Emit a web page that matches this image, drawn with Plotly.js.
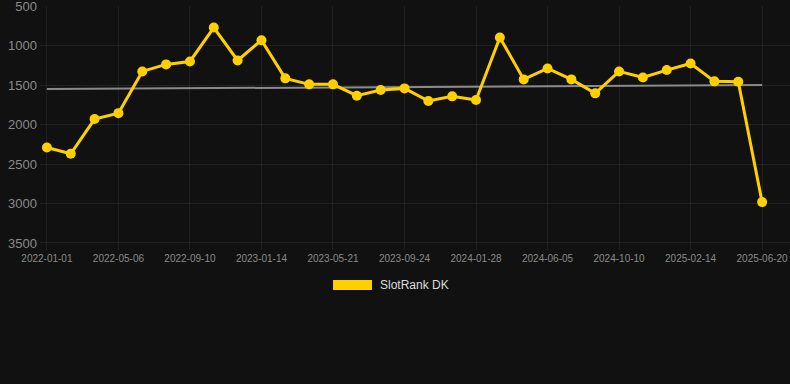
<!DOCTYPE html>
<html><head><meta charset="utf-8">
<script src="https://cdn.plot.ly/plotly-3.0.1.min.js"></script>
<style>html,body{margin:0;padding:0;background:#111111;}#chart{width:790px;height:384px;}</style>
</head><body><div id="chart"></div>
<script>
const dates = ["2022-01-01","2022-02-12","2022-03-25","2022-05-06","2022-06-17","2022-07-29","2022-09-10","2022-10-22","2022-12-03","2023-01-14","2023-02-25","2023-04-08","2023-05-21","2023-07-02","2023-08-13","2023-09-24","2023-11-05","2023-12-17","2024-01-28","2024-03-10","2024-04-23","2024-06-05","2024-07-17","2024-08-28","2024-10-10","2024-11-21","2025-01-02","2025-02-14","2025-03-28","2025-05-09","2025-06-20"];
const rankDK = [2290,2370,1930,1855,1326,1237,1200,770,1187,930,1414,1490,1490,1634,1562,1541,1701,1642,1688,896,1427,1288,1427,1604,1326,1402,1309,1225,1452,1457,2982];
const trendDates = ["2022-01-01","2025-06-20"];
const trendValues = [1549,1499];
const tickDates = ["2022-01-01","2022-05-06","2022-09-10","2023-01-14","2023-05-21","2023-09-24","2024-01-28","2024-06-05","2024-10-10","2025-02-14","2025-06-20"];
const yTicks = [500,1000,1500,2000,2500,3000,3500];
const seriesName = "SlotRank DK";

const gold = "#FFD000";
const traces = [
  {x: trendDates, y: trendValues, type: "scatter", mode: "lines",
   line: {color: "#8a8a8a", width: 2}, showlegend: false, hoverinfo: "skip"},
  {x: dates, y: rankDK, type: "scatter", mode: "lines+markers", name: seriesName,
   line: {color: gold, width: 3}, marker: {color: gold, size: 10}, showlegend: false}
];
const layout = {
  width: 790, height: 384,
  paper_bgcolor: "#111111", plot_bgcolor: "#111111",
  margin: {l: 40, r: 0, t: 6, b: 134},
  showlegend: false,
  xaxis: {type: "category", categoryorder: "array", categoryarray: dates,
    range: [-0.29, 31.17], tickmode: "array", tickvals: tickDates, ticktext: tickDates,
    showgrid: true, gridcolor: "rgba(255,255,255,0.06)", zeroline: false, showline: false,
    ticks: "", ticklabelstandoff: 1,
    tickfont: {family: "Liberation Sans, Arial, sans-serif", size: 10, color: "#8a8a8a"}},
  yaxis: {range: [3589, 497], tickmode: "array", tickvals: yTicks,
    showgrid: true, gridcolor: "rgba(255,255,255,0.07)", zeroline: false, showline: false,
    ticks: "", ticklabelstandoff: 2, ticklabeloverflow: "allow",
    tickfont: {family: "Liberation Sans, Arial, sans-serif", size: 13, color: "#8a8a8a"}},
  shapes: [{type: "rect", xref: "paper", yref: "paper", x0: 0.3907, x1: 0.4427, y0: -0.123, y1: -0.164,
    fillcolor: gold, line: {width: 0}}],
  annotations: [{xref: "paper", yref: "paper", x: 0.4507, y: -0.1434, xanchor: "left", yanchor: "middle",
    text: seriesName, showarrow: false, font: {family: "Liberation Sans, Arial, sans-serif", size: 12, color: "#dddddd"}}]
};
Plotly.newPlot("chart", traces, layout, {displayModeBar: false, staticPlot: true});
</script></body></html>
